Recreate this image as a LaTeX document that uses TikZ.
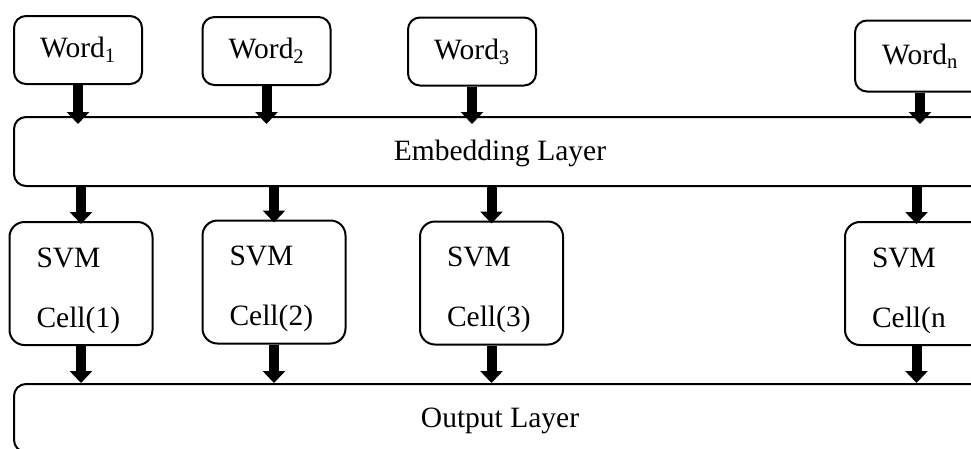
\documentclass[tikz,border=0pt]{standalone}
\usepackage{fontspec}
\setmainfont{Liberation Serif}
\usetikzlibrary{arrows.meta}

\tikzset{
    wordbox/.style={draw, line width=2pt, rounded corners=12pt,
        minimum width=128pt, minimum height=68pt,
        font=\fontsize{29.5}{34}\selectfont},
    layerbox/.style={draw, line width=2pt, rounded corners=12pt,
        minimum width=972pt, minimum height=69pt,
        font=\fontsize{29.5}{34}\selectfont},
    cellbox/.style={draw, line width=2pt, rounded corners=15pt,
        minimum height=123pt, text width=89pt, inner xsep=27pt,
        align=left, font=\fontsize{29.5}{60}\selectfont},
    fatarrow/.style={line width=10pt, -{Triangle[width=22pt,length=12pt]}}
}

\begin{document}
\begin{tikzpicture}[x=1pt, y=-1pt]
\path[use as bounding box] (0,0) rectangle (971,448);
\clip (0,0) rectangle (971,448);

% words
\node[wordbox] (w1) at (78,50) {Word\textsubscript{1}};
\node[wordbox] (w2) at (266.5,51) {Word\textsubscript{2}};
\node[wordbox] (w3) at (472,51.5) {Word\textsubscript{3}};
\node[wordbox, minimum width=130pt, minimum height=71pt] (wn) at (920,56) {Word\textsubscript{n}};

% layers
\node[layerbox] (emb) at (500,151.5) {\rule{0pt}{24pt}Embedding Layer};
\node[layerbox, minimum height=68pt] (out) at (500,418) {\rule{0pt}{26pt}Output Layer};

% svm cells
\node[cellbox] (s1) at (81,283.5) {\rule{0pt}{34pt}SVM\\Cell(1)};
\node[cellbox] (s2) at (274,282) {\rule{0pt}{34pt}SVM\\Cell(2)};
\node[cellbox] (s3) at (491.5,283) {\rule{0pt}{34pt}SVM\\Cell(3)};
\node[cellbox] (sn) at (916.5,283.5) {\rule{0pt}{34pt}SVM\\Cell(n};

% arrows
\foreach \i in {1,2,3,n} {
    \draw[fatarrow, shorten >=-8pt] (w\i.south) -- (w\i.south |- emb.north);
    \draw[fatarrow, shorten >=-3pt] (s\i.north |- emb.south) -- (s\i.north);
    \draw[fatarrow] (s\i.south) -- (s\i.south |- out.north);
}
\end{tikzpicture}
\end{document}
